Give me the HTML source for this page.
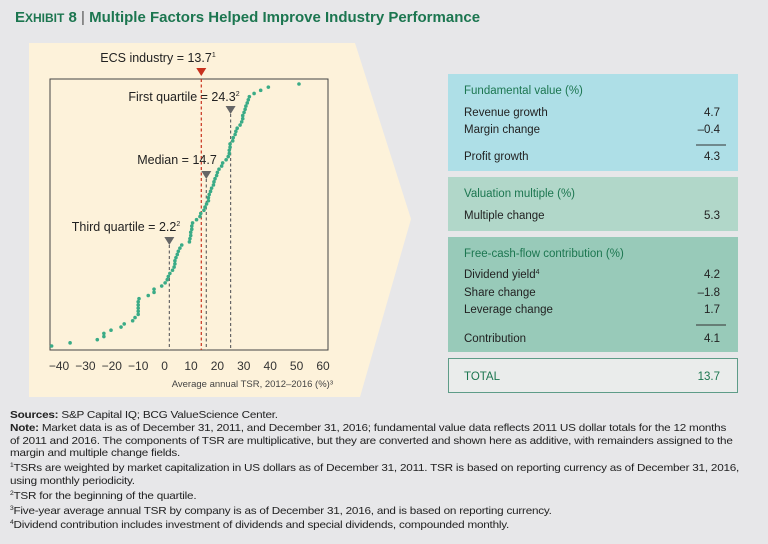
<!DOCTYPE html>
<html><head><meta charset="utf-8"><style>
html,body{margin:0;padding:0;}
body{width:768px;height:544px;background:#e7e7e9;font-family:"Liberation Sans",sans-serif;position:relative;overflow:hidden;}
#title{position:absolute;left:15px;top:9px;font-size:15px;font-weight:bold;color:#1c7650;white-space:nowrap;}
#title .sc{font-size:12px;}
.notes{position:absolute;left:10px;top:409px;width:700px;font-size:10.5px;line-height:12.8px;color:#222;letter-spacing:-0.2px;white-space:nowrap;transform:scaleX(1.115);transform-origin:0 0;}
.notes sup{font-size:6px;vertical-align:4px;}
</style></head><body>
<div id="title">E<span class="sc">XHIBIT</span> 8 <span style="font-weight:normal;color:#555">|</span> Multiple Factors Helped Improve Industry Performance</div>
<svg id="chart" width="768" height="544" style="position:absolute;left:0;top:0" font-family="Liberation Sans, sans-serif">
<polygon points="29,43 355,43 411,219 360,397 29,397" fill="#fdf2da"/>
<rect x="50" y="79" width="278" height="271" fill="none" stroke="#444" stroke-width="1"/>
<g id="refs"></g>
<g id="dots"></g>
<g id="xticks" font-size="12" fill="#333" text-anchor="middle"></g>
<text x="333" y="387" font-size="9.5" fill="#444" text-anchor="end">Average annual TSR, 2012–2016 (%)³</text>

<g font-size="11.5" fill="#222">
<rect x="448" y="74" width="290" height="97" fill="#aedfe7"/>
<text x="464" y="94" fill="#1c7650">Fundamental value (%)</text>
<text x="464" y="116">Revenue growth</text><text x="720" y="116" text-anchor="end">4.7</text>
<text x="464" y="133">Margin change</text><text x="720" y="133" text-anchor="end">–0.4</text>
<line x1="696" y1="145" x2="726" y2="145" stroke="#333"/>
<text x="464" y="160">Profit growth</text><text x="720" y="160" text-anchor="end">4.3</text>
<rect x="448" y="177" width="290" height="54" fill="#b1d7c9"/>
<text x="464" y="197" fill="#1c7650">Valuation multiple (%)</text>
<text x="464" y="219">Multiple change</text><text x="720" y="219" text-anchor="end">5.3</text>
<rect x="448" y="237" width="290" height="115" fill="#98cab9"/>
<text x="464" y="257" fill="#1c7650">Free-cash-flow contribution (%)</text>
<text x="464" y="278">Dividend yield<tspan font-size="7" dy="-4">4</tspan></text><text x="720" y="278" text-anchor="end">4.2</text>
<text x="464" y="296">Share change</text><text x="720" y="296" text-anchor="end">–1.8</text>
<text x="464" y="313">Leverage change</text><text x="720" y="313" text-anchor="end">1.7</text>
<line x1="696" y1="325" x2="726" y2="325" stroke="#333"/>
<text x="464" y="342">Contribution</text><text x="720" y="342" text-anchor="end">4.1</text>
<rect x="448.5" y="358.5" width="289" height="34" fill="#eaeceb" stroke="#5e9c88"/>
<text x="464" y="380" fill="#1c7650">TOTAL</text><text x="720" y="380" text-anchor="end" fill="#1c7650">13.7</text>
</g>
</svg>
<div class="notes">
<b>Sources:</b> S&amp;P Capital IQ; BCG ValueScience Center.<br>
<b>Note:</b> Market data is as of December 31, 2011, and December 31, 2016; fundamental value data reflects 2011 US dollar totals for the 12 months<br>of 2011 and 2016. The components of TSR are multiplicative, but they are converted and shown here as additive, with remainders assigned to the<br>margin and multiple change fields.<br>
<sup>1</sup>TSRs are weighted by market capitalization in US dollars as of December 31, 2011. TSR is based on reporting currency as of December 31, 2016,<br>using monthly periodicity.<br>
<sup>2</sup>TSR for the beginning of the quartile.<br>
<sup>3</sup>Five-year average annual TSR by company is as of December 31, 2016, and is based on reporting currency.<br>
<sup>4</sup>Dividend contribution includes investment of dividends and special dividends, compounded monthly.
</div>
<script>
const tsrValues=[-42.8,-35.8,-25.5,-23.0,-23.0,-20.3,-16.5,-15.3,-12.1,-11.2,-10.0,-10.0,-10.0,-10.0,-10.0,-9.7,-6.2,-4.0,-4.0,-1.1,0.2,1.0,1.4,2.0,3.0,3.6,3.9,3.9,4.3,4.8,5.2,5.8,6.5,9.4,9.6,9.9,9.9,10.3,10.3,10.6,12.1,13.4,13.7,14.9,15.3,15.9,16.6,16.6,16.9,17.4,17.8,18.5,18.7,19.1,19.7,20.0,20.6,21.6,22.0,23.3,24.1,24.5,24.5,24.8,24.8,25.8,26.0,26.7,27.0,27.5,28.6,29.2,29.6,29.6,30.1,30.5,30.8,31.3,31.7,32.1,33.9,36.4,39.3,50.9];
const tickValues=[-40,-30,-20,-10,0,10,20,30,40,50,60];
const tickLabels=["−40","−30","−20","−10","0","10","20","30","40","50","60"];
const refNames=["ECS industry = 13.7","First quartile = 24.3","Median = 14.7","Third quartile = 2.2"];
const refSup=["1","2","","2"];
const refPositions=[13.9,25.0,15.8,1.8];
const NS="http://www.w3.org/2000/svg";
function xs(v){return 59+(v+40)*2.64;}
function ys(i){return 346-i*(346-84)/(tsrValues.length-1);}
function mk(t,a,p){const e=document.createElementNS(NS,t);for(const k in a)e.setAttribute(k,a[k]);p.appendChild(e);return e;}
const dots=document.getElementById('dots');
tsrValues.forEach((v,i)=>{
 const c=mk('circle',{cx:xs(v),cy:ys(i),r:1.8,fill:'#3aab86'},dots);
 
 
});
const xt=document.getElementById('xticks');
tickValues.forEach((v,i)=>{
 const t=mk('text',{x:xs(v),y:370},xt);t.textContent=tickLabels[i];
 
 
});
const refs=document.getElementById('refs');
const refTop=[79,114,179,245], labelY=[62,101,164,231], labelX=[158,184,177,126];
refPositions.forEach((v,i)=>{
 const x=xs(v), red=i===0;
 const col=red?'#c8321e':'#666';
 const l=mk('line',{x1:x,x2:x,y1:refTop[i],y2:350,stroke:col,'stroke-width':1.2,'stroke-dasharray':'3,2.5'},refs);
 
 
 const ty=red?68:refTop[i]-8;
 const m=mk('polygon',{points:`${x-5},${ty} ${x+5},${ty} ${x},${ty+8}`,fill:red?'#c8321e':'#666'},refs);
 
 
 const t=mk('text',{x:labelX[i],y:labelY[i],'font-size':12.5,fill:'#222','text-anchor':'middle'},refs);
 t.textContent=refNames[i];
 if(refSup[i]){const s=mk('tspan',{'font-size':7,dy:-5},t);s.textContent=refSup[i];}
 
 
});
</script>
</body></html>
